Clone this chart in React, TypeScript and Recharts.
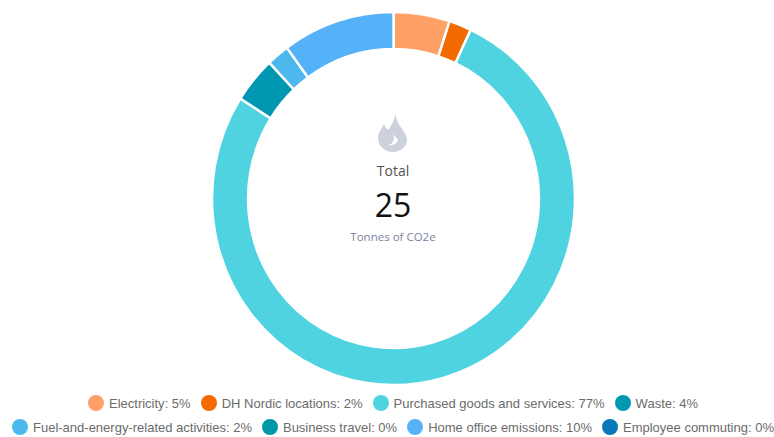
import { PieChart, Pie, Cell, Legend } from 'recharts';

const categories = [
  'Electricity',
  'DH Nordic locations',
  'Purchased goods and services',
  'Waste',
  'Fuel-and-energy-related activities',
  'Business travel',
  'Home office emissions',
  'Employee commuting',
];
const shares = [5, 2, 77, 4, 2, 0, 10, 0];
const colors = ['#FFA066', '#F26A00', '#4FD3E0', '#0097B2', '#4DB8EE', '#0097A7', '#55B1F8', '#0A78B8'];
const legendRows = [[0, 1, 2, 3], [4, 5, 6, 7]];

const data = categories.map((name, i) => ({ name, value: shares[i] }));

const CX = 393.5;
const CY = 198.5;

function ChartLegend() {
  return (
    <div style={{ width: 786, fontFamily: '"Liberation Sans", Arial, sans-serif', fontSize: 13, color: '#6b6b6b' }}>
      {legendRows.map((row, r) => (
        <div key={r} style={{ display: 'flex', justifyContent: 'center', height: 24, alignItems: 'center', whiteSpace: 'nowrap' }}>
          {row.map((i) => (
            <span key={i} style={{ display: 'inline-flex', alignItems: 'center', marginRight: i === 3 || i === 7 ? 0 : 10 }}>
              <span style={{ width: 16, height: 16, borderRadius: 8, background: colors[i], marginRight: 5 }} />
              {categories[i]}: {shares[i]}%
            </span>
          ))}
        </div>
      ))}
    </div>
  );
}

export default function App() {
  return (
    <div style={{ position: 'absolute', left: 0, top: 0, width: 774, height: 437, background: '#fff', overflow: 'hidden' }}>
      <style>{`.recharts-pie { transform-origin: ${CX}px ${CY}px; transform: scaleX(0.973); }`}</style>
      <PieChart width={774} height={437} margin={{ top: 0, right: 0, bottom: 0, left: 0 }}>
        <Pie
          data={data}
          dataKey="value"
          nameKey="name"
          cx={CX}
          cy={CY}
          innerRadius={149.5}
          outerRadius={186.5}
          startAngle={90}
          endAngle={-270}
          stroke="#fff"
          strokeWidth={2.5}
          isAnimationActive={false}
        >
          {data.map((d, i) => (
            <Cell key={d.name} fill={colors[i]} />
          ))}
        </Pie>
        <path
          fill="#CDD1DC"
          fillRule="evenodd"
          d="M395 113 C396 120 399 124 402 129 C405 133 407 136 407 140 C407 147 400 152 393 152 C385 152 378 146 378 138 C378 132 382 129 384 124 C385 127 386 129 388 130 C391 126 395 120 395 113 Z M392 132 C393 136 397 137 398 140 C397 144 392 146 388 145 C393 144 396 140 392 132 Z"
        />
        <text x={393} y={176} textAnchor="middle" fontFamily='"Open Sans", sans-serif' fontSize={14} fill="#555">
          Total
        </text>
        <text x={393} y={217} textAnchor="middle" fontFamily='"Open Sans", sans-serif' fontSize={32} fill="#111">
          25
        </text>
        <text x={393} y={241} textAnchor="middle" fontFamily='"Open Sans", sans-serif' fontSize={11.5} fill="#7D82A0">
          Tonnes of CO2e
        </text>
        <Legend
          content={<ChartLegend />}
          wrapperStyle={{ position: 'absolute', left: 0, top: 391, width: 786 }}
        />
      </PieChart>
    </div>
  );
}
